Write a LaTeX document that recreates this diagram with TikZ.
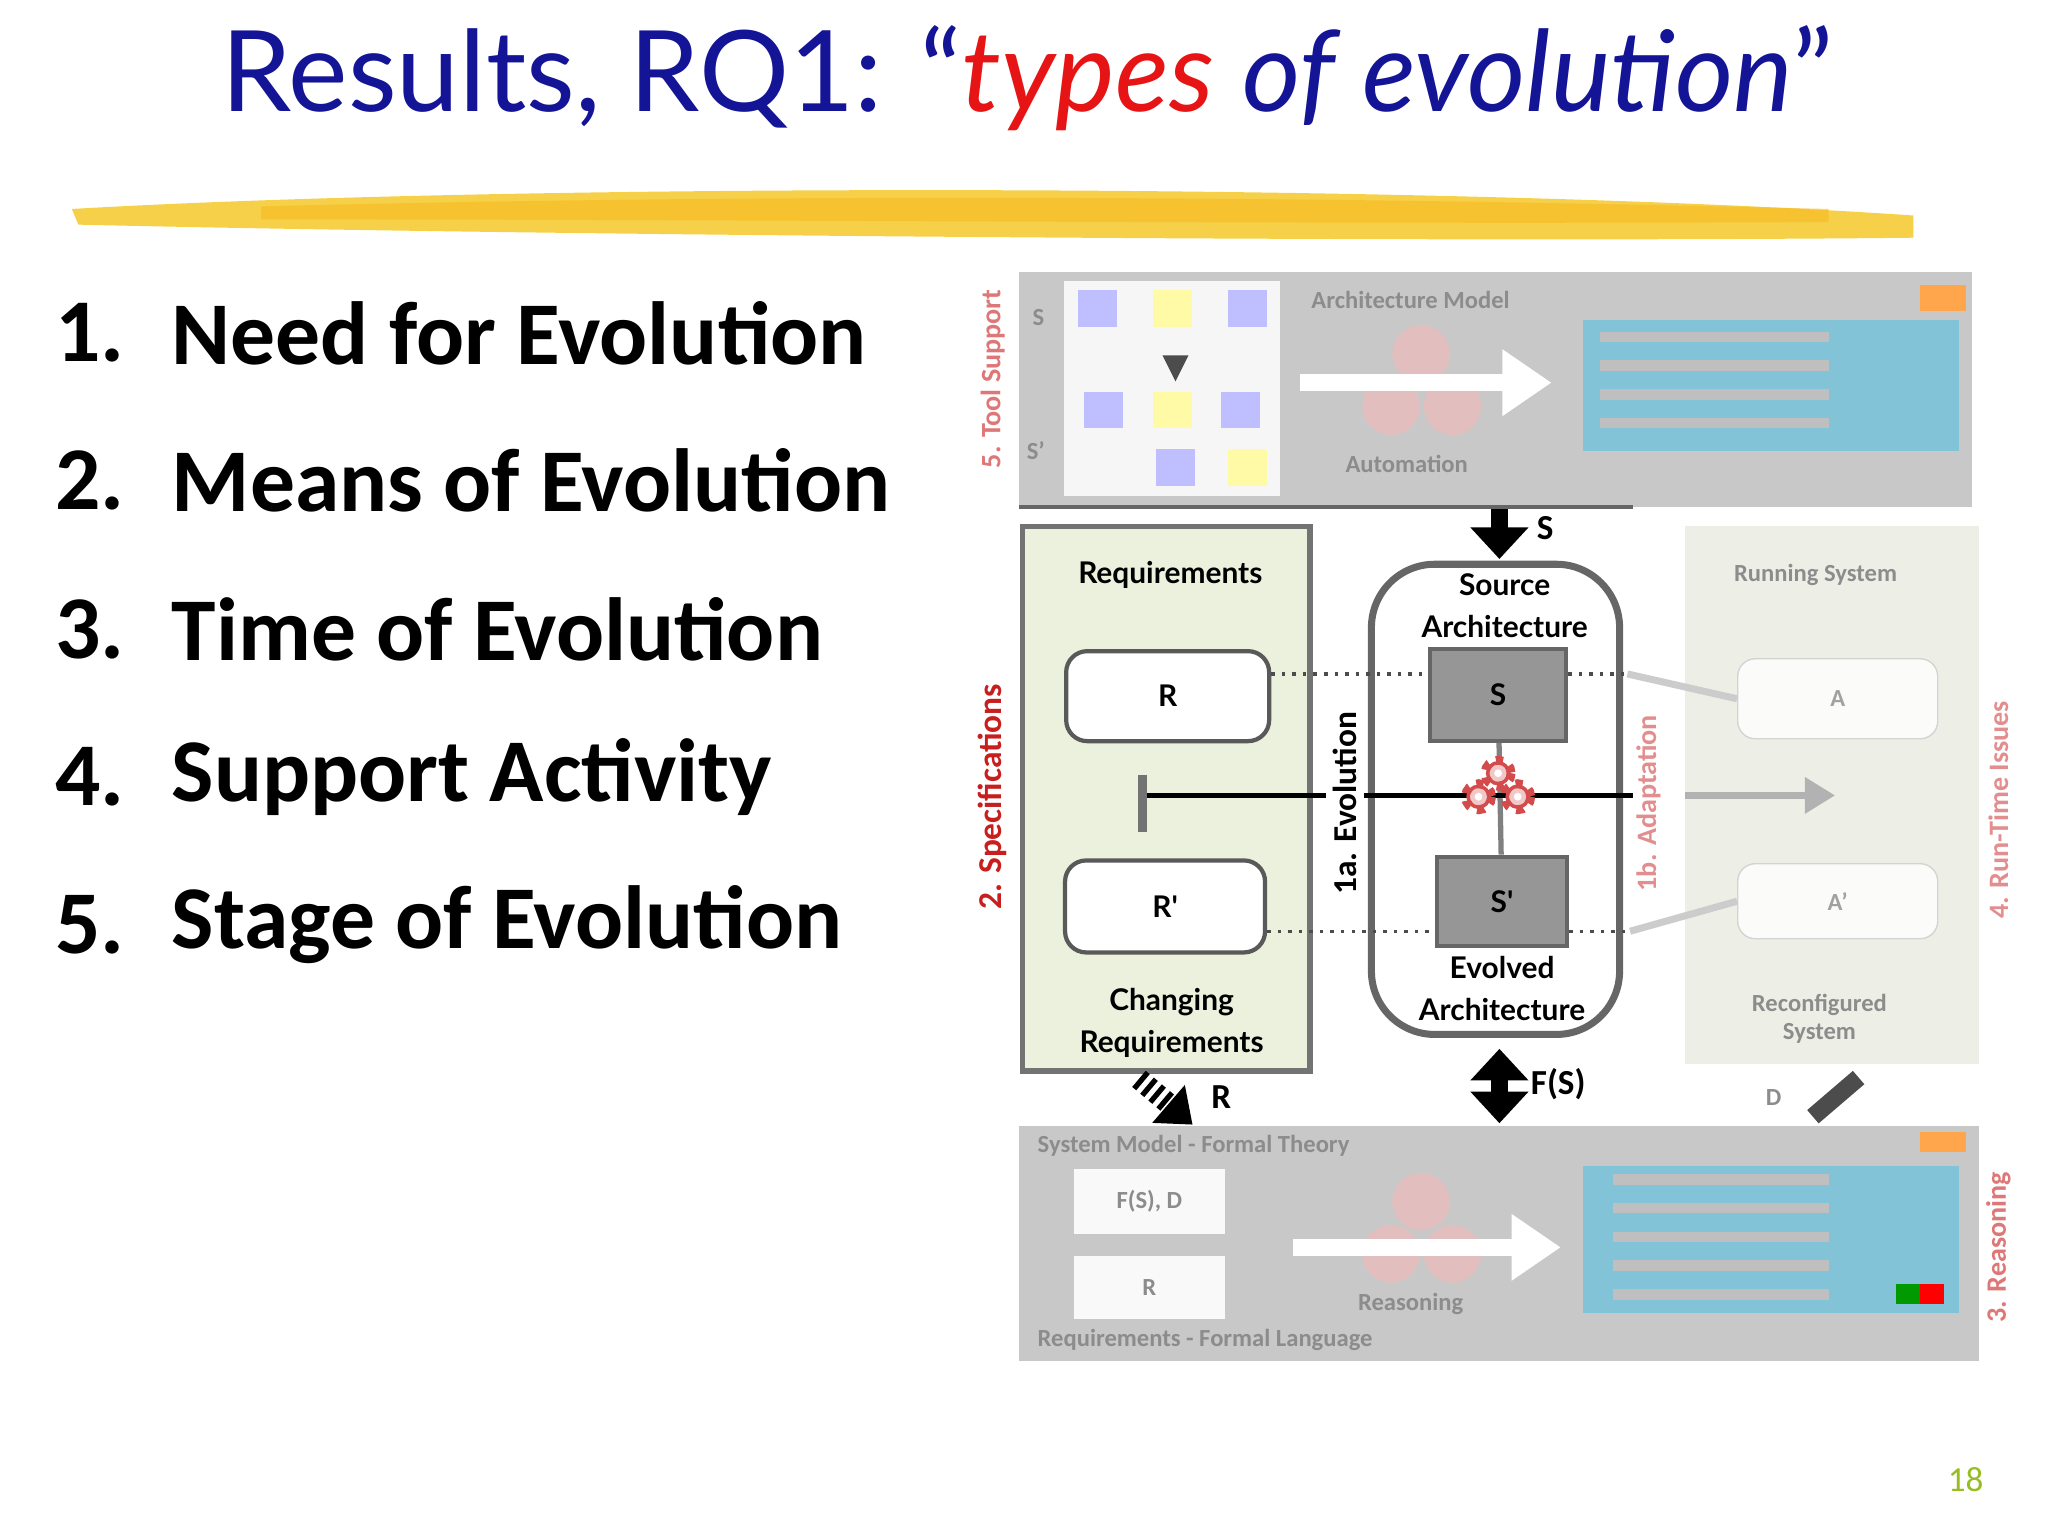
\documentclass[tikz,border=0pt]{standalone}
\usepackage{fontspec}
\setmainfont{Carlito}
\newfontfamily\tfont{Lato}
\usetikzlibrary{arrows.meta,patterns}
\definecolor{tblue}{RGB}{20,20,150}
\definecolor{tred}{RGB}{230,20,20}
\definecolor{tyel}{RGB}{245,200,40}
\definecolor{lgreen}{RGB}{236,241,222}
\definecolor{bgray}{RGB}{200,200,200}
\definecolor{boxgray}{RGB}{150,150,150}
\definecolor{cyanb}{RGB}{130,195,215}
\definecolor{rred}{RGB}{200,30,30}
\definecolor{pgn}{RGB}{150,190,30}
\tikzset{
 listtxt/.style={anchor=west,font=\bfseries\fontsize{25.5}{30}\selectfont},
 lbl/.style={font=\bfseries\fontsize{8.5}{10}\selectfont\tfont},
 rbox/.style={draw=black!65,line width=1.2pt,rounded corners=6pt,fill=white},
 gbox/.style={draw=black!60,line width=1.2pt,fill=boxgray},
 blurtxt/.style={font=\bfseries\fontsize{7}{8}\selectfont,text=black!45},
 redrot/.style={rotate=90,text=rred,font=\bfseries\fontsize{8}{9}\selectfont},
 dotl/.style={dotted,line width=1pt,black!70},
 fadebox/.style={fill=white,draw=white!80!black,rounded corners=5pt,opacity=.8}
}
\begin{document}
\begin{tikzpicture}[x=0.01306cm,y=-0.01306cm]
\useasboundingbox (0,0) rectangle (1568,1176);
% title
\node[font=\tfont\fontsize{32}{36}\selectfont,text=tblue] (title) at (787,60)
 {Results, RQ1: “\textcolor{tred}{\itshape types} {\itshape of evolution}”};
% brush
\fill[tyel,opacity=.85] (55,160) .. controls (400,140) and (1100,140) .. (1465,165) -- (1465,182) .. controls (1100,186) and (400,180) .. (60,172) -- cycle;
\fill[tyel!80!orange,opacity=.6] (200,158) .. controls (600,148) and (1000,150) .. (1400,160) -- (1400,170) .. controls (1000,172) and (600,168) .. (200,168) -- cycle;
% list
\foreach \n/\t/\y in {1/Need for Evolution/255,2/Means of Evolution/368,3/Time of Evolution/482,4/Support Activity/595,5/Stage of Evolution/708}{
 \node[listtxt] (n\n) at (33,\y) {\n.};
 \node[listtxt] (t\n) at (122,\y) {\t};
}
% top blurred box
\fill[bgray] (780,208) rectangle (1510,388);
\fill[white,opacity=.85] (815,215) rectangle (980,380);
\foreach \x/\y/\c in {840/236/blue!25,898/236/yellow!35,955/236/blue!25,845/314/blue!25,898/314/yellow!35,950/314/blue!25,900/358/blue!25,955/358/yellow!35}
 \fill[\c] (\x-15,\y-14) rectangle (\x+15,\y+14);
\fill[black!70] (890,272) -- (910,272) -- (900,292) -- cycle;
\node[blurtxt] (s1) at (795,243) {S};
\node[blurtxt] (s2) at (793,345) {S'};
\node[blurtxt] (am) at (1080,230) {Architecture Model};
\node[blurtxt] (au) at (1077,355) {Automation};
\foreach \x/\y in {1088/271,1065/311,1112/311} \fill[rred!30,opacity=.7] (\x,\y) circle (22);
\draw[white,line width=5pt,-{Triangle[length=14pt,width=18pt]}] (995,293) -- (1188,293);
\fill[cyanb] (1212,245) rectangle (1500,345);
\fill[orange!70] (1470,218) rectangle (1505,238);
\foreach \y in {258,280,302,324} \fill[black!25] (1225,\y-4) rectangle (1400,\y+4);
\node[redrot,opacity=.6] (ts) at (760,290) {5. Tool Support};
\draw[black!60,line width=1pt] (780,388) -- (1250,388);
% requirements box
\fill[lgreen,draw=black!55,line width=1.5pt] (783,403) rectangle (1003,820);
\node[lbl] (req) at (896,440) {Requirements};
\node[rbox,minimum width=2.03cm,minimum height=0.9cm,lbl] (R) at (894,533) {R};
\node[rbox,minimum width=2.0cm,minimum height=0.92cm,lbl] (Rp) at (892,694) {R'};
\node[lbl,align=center] (chg) at (897,783) {Changing\\[2pt]Requirements};
% right blurred box
\fill[lgreen!70!bgray,opacity=.6] (1290,403) rectangle (1515,815);
\node[blurtxt] (rs) at (1390,440) {Running System};
\node[fadebox,minimum width=2cm,minimum height=.8cm,blurtxt] (A) at (1407,535) {A};
\node[fadebox,minimum width=2cm,minimum height=.75cm,blurtxt] (Ap) at (1407,690) {A'};
\node[blurtxt,align=center] (rc) at (1393,780) {Reconfigured\\System};
\draw[black!20,line width=2pt] (1246,516) -- (A.west);
\draw[black!20,line width=2pt] (1248,713) -- (Ap.west);
\draw[black!30,line width=2pt,-{Triangle}] (1290,609) -- (1405,609);
\node[redrot,opacity=.5] (ad) at (1262,615) {1b. Adaptation};
\node[redrot,opacity=.5] (rt) at (1530,620) {4. Run-Time Issues};
\node[blurtxt] (dl) at (1358,840) {D};
\draw[black!70,line width=5pt] (1388,855) -- (1423,825);
% architecture box
\draw[black!60,line width=2pt,rounded corners=18pt,fill=white] (1050,432) rectangle (1240,792);
\node[lbl,align=center] (src) at (1152,464) {Source\\[2pt]Architecture};
\node[gbox,minimum width=1.36cm,minimum height=0.92cm,lbl] (S) at (1147,532) {S};
\node[gbox,minimum width=1.3cm,minimum height=0.89cm,lbl] (Sp) at (1150,690) {S'};
\node[lbl,align=center] (evo) at (1150,757) {Evolved\\[2pt]Architecture};
\draw[black!50,line width=1.5pt] (S) -- (Sp);
% horizontal line
\coordinate (hl) at (875,609);
\coordinate (hr) at (1250,609);
\draw[black,line width=1.6pt] (hl) -- (hr);
\draw[black!55,line width=2.5pt] (875,593) -- (875,637);
% gears
\foreach \x/\y in {1147/592,1132/610,1162/610}{
 \draw[rred!80,line width=1pt,fill=rred!25] (\x,\y) circle (8);
 \draw[rred!80,line width=2.5pt,dash pattern=on 2pt off 2.2pt] (\x,\y) circle (10);
 \fill[white] (\x,\y) circle (3);
}
% dotted
\draw[dotl] (R.east |- 0,516) -- (S.west |- 0,516);
\draw[dotl] (S.east |- 0,516) -- (1246,516);
\draw[dotl] (Rp.east |- 0,713) -- (Sp.west |- 0,713);
\draw[dotl] (Sp.east |- 0,713) -- (1248,713);
\node[lbl,rotate=90,fill=white,inner sep=2pt,font=\bfseries\fontsize{9.5}{10}\selectfont] (e1a) at (1030,615) {1a. Evolution};
\node[redrot,font=\bfseries\fontsize{9.5}{10}\selectfont] (spec) at (760,610) {2. Specifications};
% arrows
\coordinate (a1) at (1148,390);
\draw[black,line width=5pt,-{Triangle[length=9pt,width=16pt]}] (a1) -- (1148,428);
\node[lbl,font=\bfseries\fontsize{10}{11}\selectfont] (sl) at (1183,404) {S};
\coordinate (b1) at (1148,803);
\coordinate (b2) at (1148,860);
\draw[black,line width=5pt,{Triangle[length=9pt,width=16pt]}-{Triangle[length=9pt,width=16pt]}] (b1) -- (b2);
\node[lbl,font=\bfseries\fontsize{10}{11}\selectfont] (fs) at (1193,830) {F(S)};
\coordinate (c1) at (872,826);
\coordinate (c2) at (913,861);
\draw[black,line width=6pt,dash pattern=on 1.5pt off 1.5pt] (c1) -- (897,847);
\draw[black,line width=1pt,-{Triangle[length=9pt,width=14pt]}] (895,845.5) -- (c2);
\node[lbl,font=\bfseries\fontsize{10}{11}\selectfont] (rl) at (935,840) {R};
% bottom blurred box
\fill[bgray] (780,862) rectangle (1515,1042);
\node[blurtxt,anchor=west] (sm) at (785,877) {System Model - Formal Theory};
\node[blurtxt,anchor=west] (rqb) at (785,1026) {Requirements - Formal Language};
\fill[white,opacity=.9] (822,895) rectangle (938,945);
\fill[white,opacity=.9] (822,962) rectangle (938,1010);
\node[blurtxt] (fsd) at (880,920) {F(S), D};
\node[blurtxt] (rr) at (880,986) {R};
\foreach \x/\y in {1088/920,1065/960,1112/960} \fill[rred!30,opacity=.7] (\x,\y) circle (22);
\draw[white,line width=5pt,-{Triangle[length=14pt,width=18pt]}] (990,955) -- (1195,955);
\node[blurtxt] (rsn) at (1080,998) {Reasoning};
\fill[cyanb] (1212,893) rectangle (1500,1005);
\fill[orange!70] (1470,867) rectangle (1505,882);
\foreach \y in {903,925,947,969,991} \fill[black!25] (1235,\y-4) rectangle (1400,\y+4);
\fill[green!60!black] (1452,983) rectangle (1470,998);
\fill[red] (1470,983) rectangle (1488,998);
\node[redrot,opacity=.6] (re) at (1530,955) {3. Reasoning};
% page no
\node[text=pgn,font=\fontsize{10}{12}\selectfont] (pg) at (1505,1133) {18};
\end{tikzpicture}
\end{document}
